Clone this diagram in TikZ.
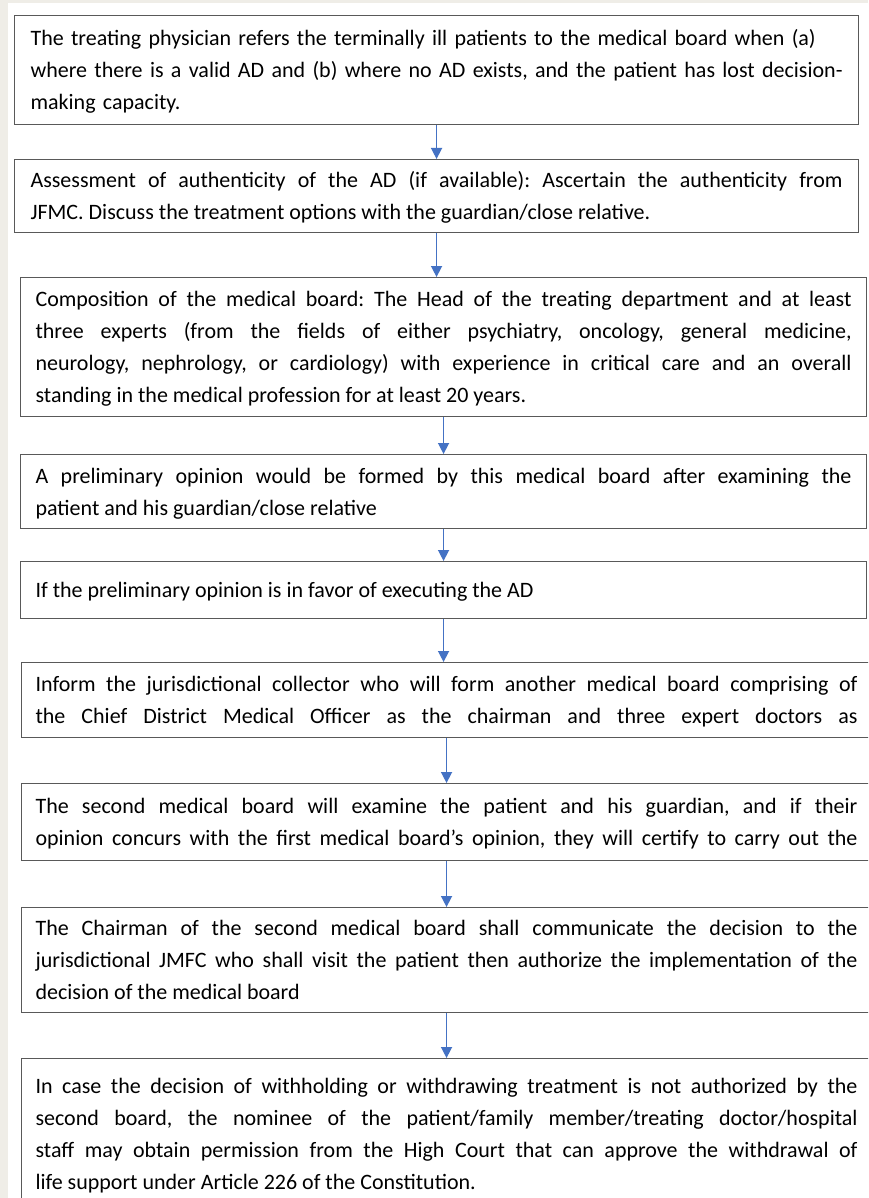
\documentclass[tikz,border=0pt]{standalone}
\usepackage{fontspec}
\setmainfont{Carlito}
\usetikzlibrary{arrows.meta}
\definecolor{flowblue}{HTML}{4472C4}
\definecolor{pagebg}{HTML}{EFEDE7}
\tikzset{box/.style={draw=black!65, line width=1.1pt, anchor=north west, inner xsep=#1, inner ysep=0pt,
  align=justify, font=\fontsize{22}{32}\selectfont\frenchspacing, text=black},
%default padding 15pt
box/.default={15pt},
openend/.style={execute at begin node={\parfillskip=0pt}},
flow/.style={draw=flowblue, line width=1.5pt, -{Triangle[length=11pt,width=11pt]}}}
\newcommand{\topstrut}{\rule{0pt}{28pt}}
\newcommand{\botstrut}{\rule[-13pt]{0pt}{13pt}}

\begin{document}
\begin{tikzpicture}[x=1pt,y=-1pt]

\fill[pagebg] (0,0) rectangle (868,1198);
\fill[white] (8,3) rectangle (868,1198);
\useasboundingbox (0,0) rectangle (868,1198);
\clip (0,0) rectangle (868,1198);

\node[box=16pt, align=left, text width=812pt, minimum height=109pt] (s1) at (14,15)
  {\topstrut\mbox{The treating physician refers the terminally ill patients to the medical board when (a)}\\
   \mbox{where there is a valid AD and (b) where no AD exists, and the patient has lost decision-}\\
   \mbox{making capacity.}\botstrut};

\node[box=16pt, text width=812pt, minimum height=73pt] (s2) at (14,159)
  {\topstrut Assessment of authenticity of the AD (if available): Ascertain the authenticity from\linebreak
   JFMC. Discuss the treatment options with the guardian/close relative.\botstrut};

\node[box, text width=816pt, minimum height=139pt] (s3) at (20,277)
  {\topstrut Composition of the medical board: The Head of the treating department and at least\linebreak
   three experts (from the fields of either psychiatry, oncology, general medicine,\linebreak
   neurology, nephrology, or cardiology) with experience in critical care and an overall\linebreak
   standing in the medical profession for at least 20 years.\botstrut};

\node[box, text width=816pt, minimum height=74pt] (s4) at (20,454)
  {\topstrut A preliminary opinion would be formed by this medical board after examining the\linebreak
   patient and his guardian/close relative\botstrut};

\node[box, text width=816pt, minimum height=57pt] (s5) at (20,561)
  {\topstrut If the preliminary opinion is in favor of executing the AD\botstrut};

\node[box=14pt, openend, text width=822pt, minimum height=75pt] (s6) at (21,662)
  {\topstrut Inform the jurisdictional collector who will form another medical board comprising of\linebreak
   the Chief District Medical Officer as the chairman and three expert doctors as\botstrut};

\node[box=14pt, openend, text width=822pt, minimum height=77pt] (s7) at (21,783)
  {\topstrut The second medical board will examine the patient and his guardian, and if their\linebreak
   opinion concurs with the first medical board’s opinion, they will certify to carry out the\botstrut};

\node[box=14pt, text width=822pt, minimum height=105pt] (s8) at (21,907)
  {\topstrut The Chairman of the second medical board shall communicate the decision to the\linebreak
   jurisdictional JMFC who shall visit the patient then authorize the implementation of the\linebreak
   decision of the medical board\botstrut};

\node[box=14pt, text width=822pt, minimum height=150pt] (s9) at (21,1058)
  {\topstrut In case the decision of withholding or withdrawing treatment is not authorized by the\linebreak
   second board, the nominee of the patient/family member/treating doctor/hospital\linebreak
   staff may obtain permission from the High Court that can approve the withdrawal of\linebreak
   life support under Article 226 of the Constitution.\botstrut};

\foreach \i/\j in {1/2,2/3,3/4,4/5,5/6,6/7,7/8,8/9}
    \draw[flow] (s\i.south) -- (s\i.south |- s\j.north);

\end{tikzpicture}
\end{document}
